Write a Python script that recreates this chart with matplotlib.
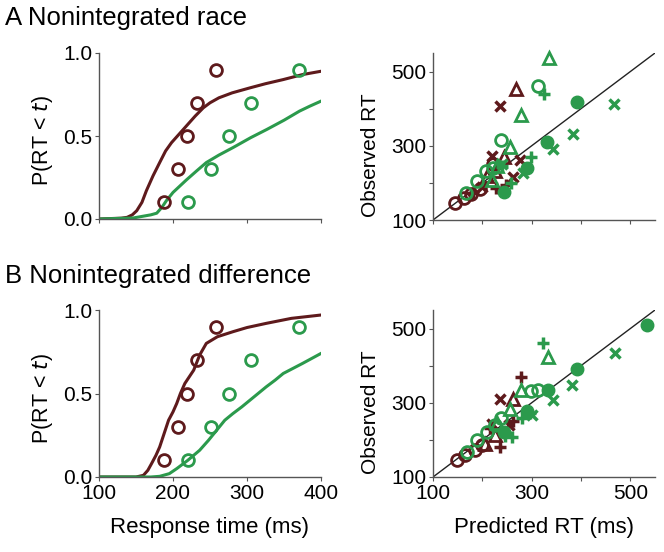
import matplotlib
matplotlib.use("Agg")
import matplotlib.pyplot as plt

plt.rcParams['font.family'] = ['Liberation Sans', 'DejaVu Sans']

RED = '#5e1a1c'
GREEN = '#2b9a4c'

# observed CDF points (same data in A and B)
q_levels = [0.1, 0.3, 0.5, 0.7, 0.9]
obs_red = [188, 207, 219, 233, 258]
obs_green = [220, 251, 276, 306, 370]

# model CDF curves, panel A (race)
a_red_t = [100, 130, 138, 145, 151, 158, 164, 173, 182, 190, 198, 208, 218, 230, 241, 250, 262, 280, 304, 325, 349, 375, 400]
a_red_p = [0.0, 0.005, 0.01, 0.025, 0.05, 0.1, 0.17, 0.26, 0.34, 0.41, 0.46, 0.51, 0.56, 0.62, 0.67, 0.70, 0.73, 0.76, 0.79, 0.815, 0.84, 0.87, 0.89]
a_green_t = [100, 146, 170, 178, 185, 191, 200, 218, 232, 245, 262, 281, 305, 327, 350, 371, 385, 400]
a_green_p = [0.0, 0.006, 0.025, 0.035, 0.07, 0.11, 0.16, 0.235, 0.29, 0.34, 0.385, 0.43, 0.49, 0.54, 0.595, 0.65, 0.68, 0.71]

# model CDF curves, panel B (difference)
b_red_t = [100, 150, 160, 166, 171, 177, 182, 188, 194, 200, 205, 210, 216, 222, 228, 236, 245, 260, 281, 300, 326, 360, 400]
b_red_p = [0.0, 0.0, 0.01, 0.04, 0.08, 0.13, 0.18, 0.26, 0.34, 0.39, 0.44, 0.50, 0.56, 0.60, 0.64, 0.73, 0.80, 0.84, 0.87, 0.895, 0.92, 0.95, 0.97]
b_green_t = [100, 170, 182, 195, 205, 220, 236, 248, 259, 270, 281, 293, 304, 315, 326, 338, 349, 375, 400]
b_green_p = [0.0, 0.0, 0.004, 0.02, 0.05, 0.10, 0.16, 0.22, 0.28, 0.34, 0.38, 0.42, 0.46, 0.50, 0.54, 0.58, 0.62, 0.68, 0.74]

# predicted vs observed RT, panel A
a_red_circ_x = [145, 162, 178, 195, 222]
a_red_circ_y = [147, 158, 170, 183, 252]
a_red_tri_x = [268, 243, 210, 225]
a_red_tri_y = [454, 270, 218, 232]
a_red_x_x = [235, 219, 277, 262, 200]
a_red_x_y = [406, 273, 262, 217, 190]
a_red_plus_x = [248, 228, 182]
a_red_plus_y = [195, 185, 172]
a_grn_circ_x = [312, 237, 207, 190, 167, 222]
a_grn_circ_y = [462, 316, 233, 205, 174, 240]
a_grn_tri_x = [335, 278, 256, 219, 230]
a_grn_tri_y = [537, 383, 298, 208, 246]
a_grn_fill_x = [391, 332, 290, 243]
a_grn_fill_y = [418, 311, 241, 175]
a_grn_x_x = [467, 383, 344, 282, 240]
a_grn_x_y = [413, 332, 292, 226, 250]
a_grn_plus_x = [324, 298, 258, 240]
a_grn_plus_y = [439, 271, 199, 245]

# predicted vs observed RT, panel B
b_red_circ_x = [148, 165, 185, 200]
b_red_circ_y = [146, 159, 172, 185]
b_red_tri_x = [263, 206, 226]
b_red_tri_y = [311, 190, 213]
b_red_x_x = [236, 219, 255]
b_red_x_y = [311, 244, 240]
b_red_plus_x = [279, 262, 235, 215]
b_red_plus_y = [369, 250, 181, 232]
b_grn_circ_x = [313, 298, 237, 209, 189, 168, 225]
b_grn_circ_y = [335, 332, 259, 222, 199, 168, 240]
b_grn_tri_x = [333, 279, 256, 230]
b_grn_tri_y = [423, 335, 283, 245]
b_grn_fill_x = [534, 392, 334, 291, 243]
b_grn_fill_y = [510, 392, 335, 277, 222]
b_grn_x_x = [468, 382, 344, 300]
b_grn_x_y = [435, 349, 307, 268]
b_grn_plus_x = [323, 280, 260, 297, 245]
b_grn_plus_y = [461, 259, 208, 272, 210]


def style_axes(ax):
    for s in ['top', 'right']:
        ax.spines[s].set_visible(False)
    for s in ['left', 'bottom']:
        ax.spines[s].set_color('#555555')
        ax.spines[s].set_linewidth(1.0)
    ax.tick_params(direction='out', length=3, width=0.8, color='#555555',
                   labelsize=15, pad=2)


def cdf_panel(ax, rt, pr, gt, gp, show_x):
    ax.plot(rt, pr, color=RED, lw=2.2, zorder=2)
    ax.plot(gt, gp, color=GREEN, lw=2.2, zorder=2)
    ax.plot(obs_red, q_levels, 'o', mfc='none', mec=RED, mew=2, ms=8.5, clip_on=False)
    ax.plot(obs_green, q_levels, 'o', mfc='none', mec=GREEN, mew=2, ms=8.5, clip_on=False)
    ax.set_xlim(100, 400)
    ax.set_ylim(0, 1)
    ax.set_xticks([100, 200, 300, 400])
    ax.set_yticks([0, 0.5, 1.0])
    ax.set_yticklabels(['0.0', '0.5', '1.0'])
    ax.set_ylabel('P(RT < $\\it{t}$)', fontsize=15.5)
    ax.yaxis.set_label_coords(-0.2, 0.47)
    if show_x:
        ax.set_xlabel('Response time (ms)', fontsize=16, labelpad=10)
    else:
        ax.set_xticklabels([])
    style_axes(ax)


def scatter_panel(ax, d, show_x):
    ax.plot([100, 550], [100, 550], color='#222222', lw=1, zorder=1)
    kw = dict(ls='none', clip_on=False, zorder=3)
    for col, key in [(RED, 'red'), (GREEN, 'grn')]:
        ax.plot(d[key + '_circ'][0], d[key + '_circ'][1], 'o', mfc='none', mec=col, mew=2, ms=8.5, **kw)
        ax.plot(d[key + '_tri'][0], d[key + '_tri'][1], '^', mfc='none', mec=col, mew=2, ms=9, **kw)
        ax.plot(d[key + '_x'][0], d[key + '_x'][1], 'x', color=col, mew=2.5, ms=7, **kw)
        ax.plot(d[key + '_plus'][0], d[key + '_plus'][1], '+', color=col, mew=2.5, ms=9, **kw)
    ax.plot(d['grn_fill'][0], d['grn_fill'][1], 'o', color=GREEN, ms=9, **kw)
    ax.set_xlim(100, 550)
    ax.set_ylim(100, 550)
    ax.set_xticks([100, 200, 300, 400, 500])
    ax.set_yticks([100, 200, 300, 400, 500])
    ax.set_yticklabels(['100', '', '300', '', '500'])
    ax.set_ylabel('Observed RT', fontsize=15)
    ax.yaxis.set_label_coords(-0.24, 0.39)
    if show_x:
        ax.set_xticklabels(['100', '', '300', '', '500'])
        ax.set_xlabel('Predicted RT (ms)', fontsize=16, labelpad=10)
    else:
        ax.set_xticklabels([])
    style_axes(ax)


data_a = {
    'red_circ': (a_red_circ_x, a_red_circ_y), 'red_tri': (a_red_tri_x, a_red_tri_y),
    'red_x': (a_red_x_x, a_red_x_y), 'red_plus': (a_red_plus_x, a_red_plus_y),
    'grn_circ': (a_grn_circ_x, a_grn_circ_y), 'grn_tri': (a_grn_tri_x, a_grn_tri_y),
    'grn_x': (a_grn_x_x, a_grn_x_y), 'grn_plus': (a_grn_plus_x, a_grn_plus_y),
    'grn_fill': (a_grn_fill_x, a_grn_fill_y),
}
data_b = {
    'red_circ': (b_red_circ_x, b_red_circ_y), 'red_tri': (b_red_tri_x, b_red_tri_y),
    'red_x': (b_red_x_x, b_red_x_y), 'red_plus': (b_red_plus_x, b_red_plus_y),
    'grn_circ': (b_grn_circ_x, b_grn_circ_y), 'grn_tri': (b_grn_tri_x, b_grn_tri_y),
    'grn_x': (b_grn_x_x, b_grn_x_y), 'grn_plus': (b_grn_plus_x, b_grn_plus_y),
    'grn_fill': (b_grn_fill_x, b_grn_fill_y),
}

W, H = 664, 552
fig = plt.figure(figsize=(W / 100, H / 100), dpi=100)


def add_ax(x0, y0, x1, y1):
    return fig.add_axes([x0 / W, 1 - y1 / H, (x1 - x0) / W, (y1 - y0) / H])


ax_tl = add_ax(99, 53, 321, 219)
ax_tr = add_ax(433, 53, 655, 220)
ax_bl = add_ax(99, 310, 321, 477)
ax_br = add_ax(433, 310, 655, 477)

cdf_panel(ax_tl, a_red_t, a_red_p, a_green_t, a_green_p, False)
cdf_panel(ax_bl, b_red_t, b_red_p, b_green_t, b_green_p, True)
scatter_panel(ax_tr, data_a, False)
scatter_panel(ax_br, data_b, True)

fig.text(5 / W, 1 - 18 / H, 'A Nonintegrated race', fontsize=18.5, va='center', ha='left')
fig.text(5 / W, 1 - 276 / H, 'B Nonintegrated difference', fontsize=18.5, va='center', ha='left')

fig.savefig('out.png', dpi=100)
